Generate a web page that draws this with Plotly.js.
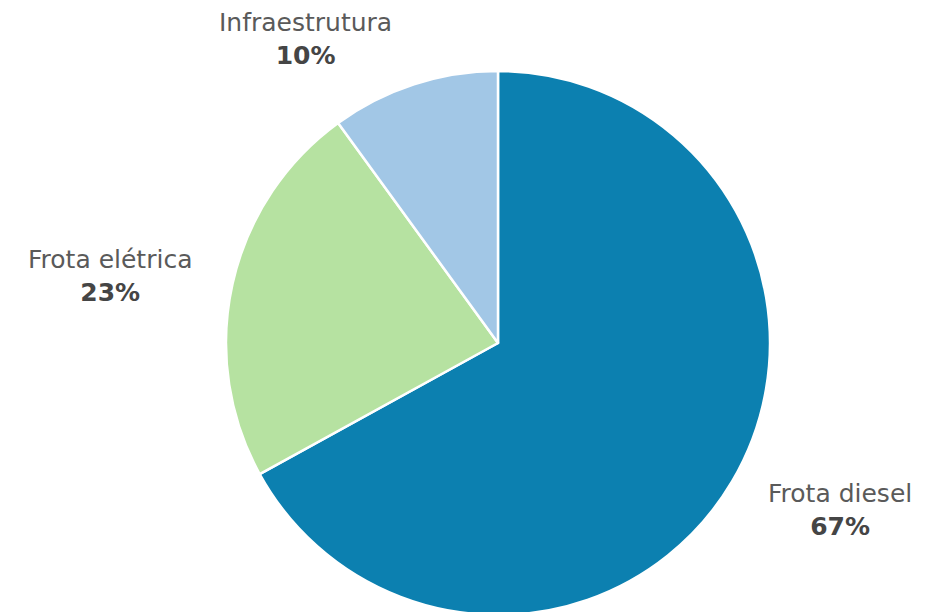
<!DOCTYPE html>
<html><head><meta charset="utf-8">
<script src="https://cdn.plot.ly/plotly-3.0.1.min.js"></script>
<style>html,body{margin:0;padding:0;overflow:hidden;background:#fff}#c{width:930px;height:700px}</style>
</head><body><div id="c"></div>
<script>
const labels = ["Frota diesel", "Frota elétrica", "Infraestrutura"];
const values = [67, 23, 10];
const colors = ["#0c80b0", "#b6e2a1", "#a2c7e6"];
// label block centers (pixels from top-left)
const labelPos = [[840, 510], [110, 276], [305, 39]];

const W = 930, H = 700;
const cx = 498, cy = 343, r = 272;
const total = values.reduce((a, b) => a + b, 0);

const trace = {
  type: "pie",
  labels: labels,
  values: values,
  sort: false,
  direction: "clockwise",
  rotation: 0,
  textinfo: "none",
  hoverinfo: "label+percent",
  marker: {colors: colors, line: {color: "#ffffff", width: 2.5}},
  domain: {x: [(cx - r) / W, (cx + r) / W], y: [(H - cy - r) / H, (H - cy + r) / H]},
  showlegend: false
};

const annotations = labels.map((l, i) => ({
  xref: "paper", yref: "paper",
  x: labelPos[i][0] / W, y: (H - labelPos[i][1]) / H,
  xanchor: "center", yanchor: "middle",
  showarrow: false, align: "center",
  text: '<span style="color:#5a5a5a">' + l + '</span><br><b style="color:#454545">' + Math.round(values[i] / total * 100) + '%</b>',
  font: {family: "DejaVu Sans, sans-serif", size: 25, color: "#555"}
}));

Plotly.newPlot("c", [trace], {
  width: W, height: H,
  margin: {l: 0, r: 0, t: 0, b: 0},
  paper_bgcolor: "#fff",
  annotations: annotations
}, {displayModeBar: false, staticPlot: true});
</script></body></html>
